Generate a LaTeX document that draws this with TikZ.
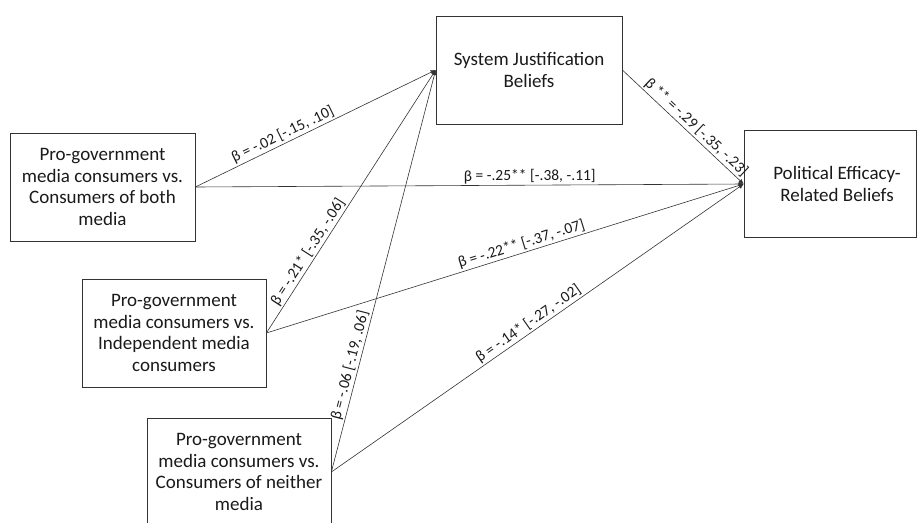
\documentclass[tikz,border=0pt]{standalone}
\usepackage{fontspec}
\setmainfont{Carlito}
\usetikzlibrary{arrows.meta}
\definecolor{txt}{HTML}{1A1A1A}
\definecolor{ln}{HTML}{333333}
\begin{document}
\begin{tikzpicture}[x=1pt,y=-1pt,
  box/.style={draw=ln, line width=0.7pt, fill=white, inner sep=0pt, align=center, text=txt,
    font=\fontsize{19}{21.5}\selectfont},
  lbl/.style={sloped, above, inner sep=1.5pt, text=txt, font=\fontsize{15.5}{17}\selectfont},
  con/.style={draw=ln, line width=0.6pt, -{Latex[length=5pt,width=4.5pt]}}]
\useasboundingbox (0,0) rectangle (917,522);
\node[box, minimum width=185pt, minimum height=108pt] (b1) at (102.5,187)
  {Pro-government\\media consumers vs.\\Consumers of both\\media};
\node[box, minimum width=184pt, minimum height=108pt] (b2) at (174,333)
  {Pro-government\\media consumers vs.\\Independent media\\consumers};
\node[box, minimum width=184pt, minimum height=108pt] (b3) at (239,472)
  {Pro-government\\media consumers vs.\\Consumers of neither\\media};
\node[box, minimum width=186pt, minimum height=108pt] (sj) at (529,70)
  {System Justification\\Beliefs};
\node[box, minimum width=172pt, minimum height=107pt] (pe) at (830,184) {};
\node[align=center, text=txt, font=\fontsize{19}{21.5}\selectfont, inner sep=0pt] (pet) at (837,184)
  {Political Efficacy-\\Related Beliefs};
\draw[con] (b1.east) -- node[lbl, pos=0.38] {β = -.02 [-.15, .10]} (sj.west);
\draw[con] (b1.east) -- node[lbl, pos=0.61] {β = -.25** [-.38, -.11]} (pe.west);
\draw[con] (b2.east) -- node[lbl, pos=0.29] {β = -.21* [-.35, -.06]} (sj.west);
\draw[con] (b2.east) -- node[lbl, pos=0.54] {β = -.22** [-.37, -.07]} (pe.west);
\draw[con] (b3.east) -- node[lbl, pos=0.26] {β = -.06 [-.19, .06]} (sj.west);
\draw[con] (b3.east) -- node[lbl, pos=0.49] {β = -.14* [-.27, -.02]} (pe.west);
\draw[con] (sj.east) -- node[lbl, pos=0.56] {β ** = -.29 [-.35, -.23]} (pe.west);
\end{tikzpicture}
\end{document}
